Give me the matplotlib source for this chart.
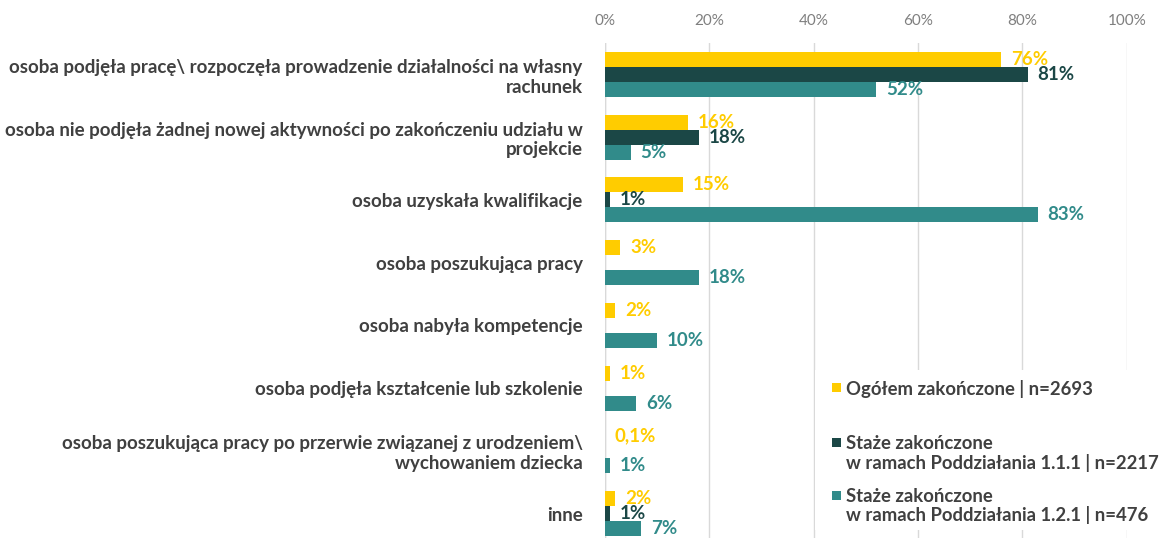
import matplotlib.pyplot as plt
from matplotlib.patches import Rectangle
import numpy as np

plt.rcParams['font.family'] = ['Lato', 'DejaVu Sans']

categories = [
    "osoba podjęła pracę\\ rozpoczęła prowadzenie działalności na własny\nrachunek",
    "osoba nie podjęła żadnej nowej aktywności po zakończeniu udziału w\nprojekcie",
    "osoba uzyskała kwalifikacje",
    "osoba poszukująca pracy",
    "osoba nabyła kompetencje",
    "osoba podjęła kształcenie lub szkolenie",
    "osoba poszukująca pracy po przerwie związanej z urodzeniem\\\nwychowaniem dziecka",
    "inne",
]
ogolem = [76, 16, 15, 3, 2, 1, 0.1, 2]
staze_111 = [81, 18, 1, np.nan, np.nan, np.nan, np.nan, 1]
staze_121 = [52, 5, 83, 18, 10, 6, 1, 7]

series_names = [
    "Ogółem zakończone | n=2693",
    "Staże zakończone\nw ramach Poddziałania 1.1.1 | n=2217",
    "Staże zakończone\nw ramach Poddziałania 1.2.1 | n=476",
]
colors = ["#FFCC00", "#1B4746", "#318B8A"]
text_gray = "#404040"


def fmt(v):
    if v == int(v):
        return "%d%%" % v
    return ("%.1f%%" % v).replace(".", ",")


W, H = 1172, 538
fig = plt.figure(figsize=(W / 100, H / 100), dpi=100)
ax = fig.add_axes([0.516, -0.013, 0.4454, 0.933])

y = np.arange(len(categories))
h = 0.24
for k, (vals, col) in enumerate(zip([ogolem, staze_111, staze_121], colors)):
    pos = y + (k - 1) * h
    ax.barh(pos, vals, height=h, color=col)
    for p, v in zip(pos, vals):
        if np.isnan(v):
            continue
        ax.annotate(fmt(v), (v, p), xytext=(7, 0), textcoords="offset points",
                    va="center", ha="left", color=col, fontsize=13.5,
                    fontweight="bold")

ax.set_xlim(0, 100)
ax.set_ylim(len(categories) - 0.5, -0.5)
ax.set_xticks(np.arange(0, 101, 20))
ax.set_xticklabels(["%d%%" % t for t in range(0, 101, 20)])
ax.xaxis.tick_top()
ax.tick_params(axis="x", length=0, labelsize=11, colors="#7f7f7f", pad=11)
ax.grid(axis="x", color="#d9d9d9", linewidth=1)
ax.set_axisbelow(True)
for s in ax.spines.values():
    s.set_visible(False)
ax.axvline(0, color="#d9d9d9", linewidth=1, zorder=0)

ax.set_yticks(y)
ax.set_yticklabels(categories, fontsize=13.5, fontweight="bold", color=text_gray,
                   ha="right", multialignment="right")
ax.tick_params(axis="y", length=0, pad=16)

# legend drawn by hand (white box over the gridlines, handle beside first line)
fig.patches.append(Rectangle((815 / W, 1 - 530 / H), 357 / W, 160 / H,
                             transform=fig.transFigure, facecolor="white",
                             edgecolor="none", zorder=3))
legend_rows = [387, 442, 495]
for name, col, row in zip(series_names, colors, legend_rows):
    fig.patches.append(Rectangle((832 / W, 1 - (row + 4.5) / H), 9 / W, 9 / H,
                                 transform=fig.transFigure, facecolor=col,
                                 edgecolor="none", zorder=4))
    fig.text(846 / W, 1 - (row - 7) / H, name, ha="left", va="top",
             fontsize=13.3, fontweight="bold", color=text_gray, zorder=5,
             linespacing=1.1)

fig.savefig("out.png", dpi=100)
